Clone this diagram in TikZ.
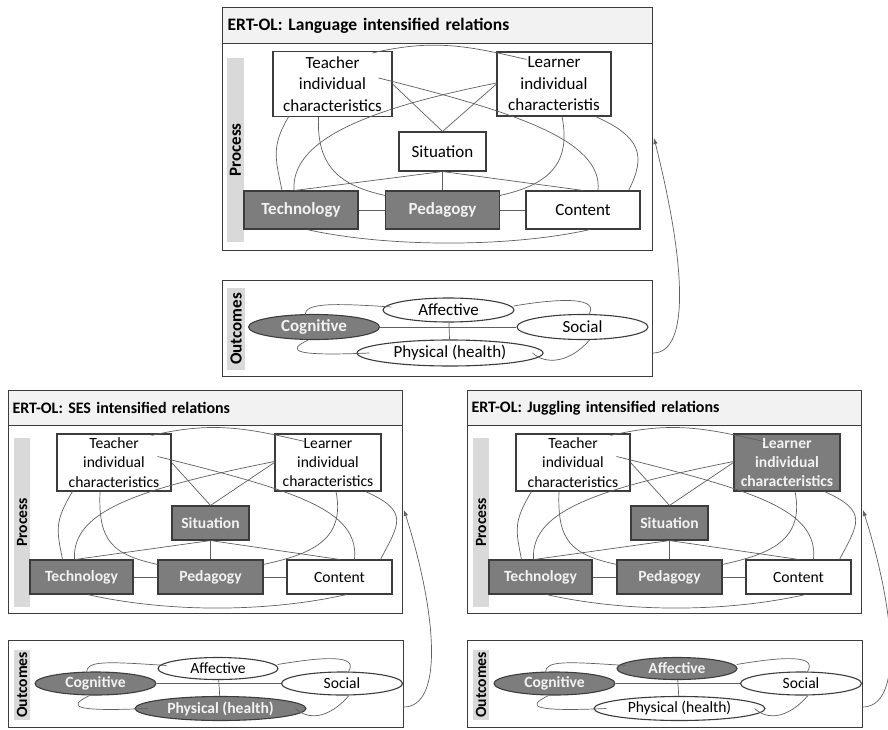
\documentclass[tikz,border=0pt]{standalone}
\usepackage{fontspec}
\setmainfont{Carlito}
\usetikzlibrary{arrows.meta, positioning, calc, shapes}
\definecolor{edgegray}{RGB}{60,60,60}
\definecolor{linegray}{RGB}{95,95,95}
\definecolor{headgray}{RGB}{242,242,242}
\definecolor{bargray}{RGB}{217,217,217}
\definecolor{darkfill}{RGB}{125,125,125}

\tikzset{
  box/.style={draw=edgegray, line width=1.1pt, fill=white, inner sep=0pt, align=center},
  oval/.style={ellipse, draw=edgegray, line width=1.1pt, fill=white, inner sep=0pt},
  hot/.style={fill=darkfill, text=white!95!black, font=\bfseries},
  head/.style={draw=edgegray, line width=1.1pt, fill=headgray, inner sep=0pt, align=left},
  panel/.style={draw=edgegray, line width=1.1pt, inner sep=0pt},
  bar/.style={fill=bargray, inner sep=0pt, font=\bfseries},
  link/.style={draw=linegray, line width=0.7pt},
  back/.style={draw=linegray, line width=0.7pt, -{Latex[length=6pt,width=4.5pt]}}
}

% connectors of a process panel (nodes tea, lea, sit, tec, ped, con)
\newcommand{\proclinks}{%
  \draw[link] (tea.east) -- (sit.north);
  \draw[link] (lea.west) -- (sit.north);
  \draw[link] (sit.south) -- (ped.north);
  \draw[link] (sit.south) -- ($(tec.north)+(-6,0)$);
  \draw[link] (sit.south) -- (con.north);
  \draw[link] (tec) -- (ped);
  \draw[link] (ped) -- (con);
  \draw[link] ($(tea.east)+(-14,-6)$) .. controls +(137,34) and +(5,-50) .. ($(con.north)+(15,0)$);
  \draw[link] ($(lea.west)+(0,-1)$) .. controls +(-135,27) and +(-3,-49) .. ($(tec.north)+(-7,0)$);
  \draw[link] ($(tea.south west)+(16,0)$) .. controls +(-18,30) and +(-6,-30) .. ($(tec.north)+(-19,0)$);
  \draw[link] ($(tea.south)+(-14,0)$) .. controls +(-2,50) and +(-45,-10) .. ($(ped.north west)+(0,5)$);
  \draw[link] ($(lea.south)+(8,0)$) .. controls +(10,50) and +(45,-10) .. ($(ped.north east)+(0,5)$);
  \draw[link] ($(lea.south east)+(-16,0)$) .. controls +(45,20) and +(18,-35) .. ($(con.north east)+(-12,0)$);
  \draw[link] ($(tec.south)+(6,0)$) .. controls +(80,18) and +(-80,18) .. ($(con.south)+(7,0)$);
  \draw[link] ($(tea.north east)+(-20,2)$) .. controls +(60,-14) and +(-60,-14) .. ($(lea.north west)+(30,8)$);
}

% connectors of an outcomes panel (nodes cog, aff, soc, phy)
\newcommand{\outlinks}{%
  \draw[link] (cog) -- (soc);
  \draw[link] (aff) -- (phy);
  \draw[link] ($(cog.north)+(-9,1)$) .. controls +(0,-12) and +(-60,-4) .. ($(aff.west)+(9,-3)$);
  \draw[link] ($(aff.east)+(-1,-4)$) .. controls +(47,-8) and +(12,-18) .. ($(soc.north)+(6,1)$);
  \draw[link] ($(cog.south)+(-6,0)$) .. controls +(-25,12) and +(-70,3) .. ($(phy.west)+(13,0)$);
  \draw[link] ($(phy.east)+(-11,0)$) .. controls +(13,12) and +(-20,23) .. ($(soc.south)+(7,0)$);
}

% lower panels: #1 title, #2 learner, #3 affective, #4 physical
\newcommand{\lowpanel}[4]{%
  \fontsize{15.6}{19.3}\selectfont
  \node[head, font=\fontsize{16}{19}\selectfont\bfseries, minimum width=394pt, minimum height=35pt, text width=386pt, anchor=north west] (title) at (8,390) {#1};
  \node[panel, minimum width=394pt, minimum height=188pt, anchor=north west] (body) at (8,425) {};
  \node[bar, rotate=90, minimum width=169pt, minimum height=16pt] (bar) at (22,522.5) {Process};
  \node[box, minimum width=114pt, minimum height=57pt] (tea) at (114,462.5) {Teacher\\individual\\characteristics};
  \node[box, #2, minimum width=106pt, minimum height=57pt] (lea) at (328,462.5) {Learner\\individual\\characteristics};
  \node[box, hot, minimum width=77pt, minimum height=34pt] (sit) at (210.5,523) {Situation};
  \node[box, hot, minimum width=103pt, minimum height=34pt] (tec) at (81.5,577) {Technology};
  \node[box, hot, minimum width=105pt, minimum height=34pt] (ped) at (210.5,577) {Pedagogy};
  \node[box, minimum width=105pt, minimum height=34pt] (con) at (339.5,577) {Content};
  \proclinks
  \node[panel, minimum width=395pt, minimum height=87pt, anchor=north west] (obody) at (8,640) {};
  \node[bar, rotate=90, minimum width=70pt, minimum height=16pt] (obar) at (22,685) {Outcomes};
  \node[oval, hot, minimum width=121pt, minimum height=23pt] (cog) at (95.5,683.5) {Cognitive};
  \node[oval, #3, minimum width=120pt, minimum height=22pt] (aff) at (218,668.5) {Affective};
  \node[oval, minimum width=121pt, minimum height=23pt] (soc) at (342,683.5) {Social};
  \node[oval, #4, minimum width=171pt, minimum height=24pt] (phy) at (220.5,708.5) {Physical (health)};
  \outlinks
}

\begin{document}
\begin{tikzpicture}[x=1pt, y=-1pt]
  \useasboundingbox (0,0) rectangle (888,730);

  % language panel
  \begin{scope}[name prefix=L-]
    \fontsize{17}{21.5}\selectfont
    \node[head, font=\fontsize{17.5}{21}\selectfont\bfseries, minimum width=430pt, minimum height=36pt, text width=420pt, anchor=north west] (title) at (222,7) {ERT-OL: Language intensified relations};
    \node[panel, minimum width=430pt, minimum height=207pt, anchor=north west] (body) at (222,43) {};
    \node[bar, rotate=90, minimum width=184pt, minimum height=17pt] (bar) at (235.5,150) {Process};
    \node[box, minimum width=119pt, minimum height=65pt] (tea) at (332.5,84) {Teacher\\individual\\characteristics};
    \node[box, minimum width=114pt, minimum height=64pt] (lea) at (554,84) {Learner\\individual\\characteristis};
    \node[box, minimum width=87pt, minimum height=39pt] (sit) at (442.5,151.5) {Situation};
    \node[box, hot, minimum width=114pt, minimum height=38pt] (tec) at (301,210) {Technology};
    \node[box, hot, minimum width=114pt, minimum height=38pt] (ped) at (442.5,210) {Pedagogy};
    \node[box, minimum width=114pt, minimum height=38pt] (con) at (583,210) {Content};
    \proclinks
    \node[panel, minimum width=430pt, minimum height=96pt, anchor=north west] (obody) at (222,280) {};
    \node[bar, rotate=90, minimum width=82pt, minimum height=18pt] (obar) at (236,329) {Outcomes};
    \node[oval, hot, minimum width=131pt, minimum height=25pt] (cog) at (314,327) {Cognitive};
    \node[oval, minimum width=131pt, minimum height=24pt] (aff) at (448.5,310) {Affective};
    \node[oval, minimum width=131pt, minimum height=25pt] (soc) at (582.5,327) {Social};
    \node[oval, minimum width=186pt, minimum height=26pt] (phy) at (450,353) {Physical (health)};
    \outlinks
    \coordinate (from) at (653,353);
    \coordinate (to) at (654,138);
    \draw[back] (from) .. controls (690,353) and (686,265) .. (to);
  \end{scope}

  % SES panel
  \begin{scope}[name prefix=S-]
    \lowpanel{ERT-OL: SES intensified relations}{}{}{hot}
    \coordinate (from) at (403,707);
    \coordinate (to) at (404,510);
    \draw[back] (from) .. controls (445,708) and (436,610) .. (to);
  \end{scope}

  % juggling panel
  \begin{scope}[shift={(459,0)}, name prefix=J-]
    \lowpanel{ERT-OL: Juggling intensified relations}{hot}{hot}{}
    \coordinate (from) at (403,707);
    \coordinate (to) at (404,510);
    \draw[back] (from) .. controls (445,708) and (436,610) .. (to);
  \end{scope}
\end{tikzpicture}
\end{document}
